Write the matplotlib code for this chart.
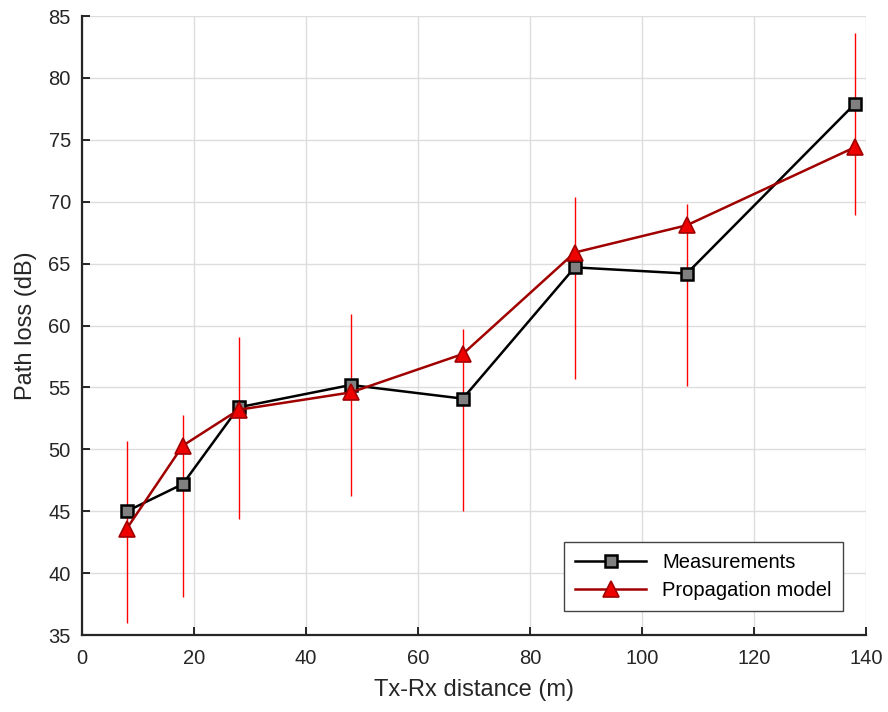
import matplotlib
matplotlib.use("Agg")
from matplotlib import pyplot as plt

# data
distance = [8, 18, 28, 48, 68, 88, 108, 138]
measured = [45.0, 47.2, 53.4, 55.2, 54.1, 64.7, 64.2, 77.9]
model = [43.6, 50.3, 53.2, 54.6, 57.7, 65.9, 68.1, 74.4]
err_low = [36.0, 38.1, 44.4, 46.2, 45.0, 55.7, 55.1, 68.9]
err_high = [50.7, 52.8, 59.1, 60.9, 59.7, 70.4, 69.8, 83.6]

plt.rcParams['font.family'] = ['Liberation Sans', 'DejaVu Sans']

fig = plt.figure(figsize=(8.88, 7.12), dpi=100)
ax = fig.add_axes([0.0923, 0.108, 0.8829, 0.8695])

ax.vlines(distance, err_low, err_high, color='#ff0000', lw=1.0, zorder=2.5)
ax.plot(distance, measured, color='black', lw=1.8, marker='s', ms=8,
        mfc='#808080', mec='black', mew=1.8, label='Measurements', zorder=3)
ax.plot(distance, model, color='#a00000', lw=1.8, marker='^', ms=11,
        mfc='#ee0000', mec='#a00000', mew=1.2, label='Propagation model', zorder=3)

ax.set_xlim(0, 140)
ax.set_ylim(35, 85)
ax.set_xticks(range(0, 141, 20))
ax.set_yticks(range(35, 86, 5))
ax.grid(True, color='#dddddd', lw=1.0)
ax.set_axisbelow(True)

for s in ['top', 'right']:
    ax.spines[s].set_visible(False)
for s in ['left', 'bottom']:
    ax.spines[s].set_color('#262626')
    ax.spines[s].set_linewidth(1.6)
ax.tick_params(direction='in', length=6, width=1.4, color='#262626',
               labelsize=14.5, labelcolor='#262626')
ax.tick_params(axis='x', pad=10)
ax.tick_params(axis='y', pad=8)

ax.set_xlabel('Tx-Rx distance (m)', fontsize=17, color='#262626', labelpad=8)
ax.set_ylabel('Path loss (dB)', fontsize=17, color='#262626', labelpad=8)

leg = ax.legend(loc='lower right', bbox_to_anchor=(0.983, 0.022), fontsize=14.5,
                fancybox=False, framealpha=1, edgecolor='#444444',
                handlelength=3.5, borderpad=0.55, labelspacing=0.45)
leg.get_frame().set_linewidth(1.0)

fig.savefig('out.png', dpi=100)
